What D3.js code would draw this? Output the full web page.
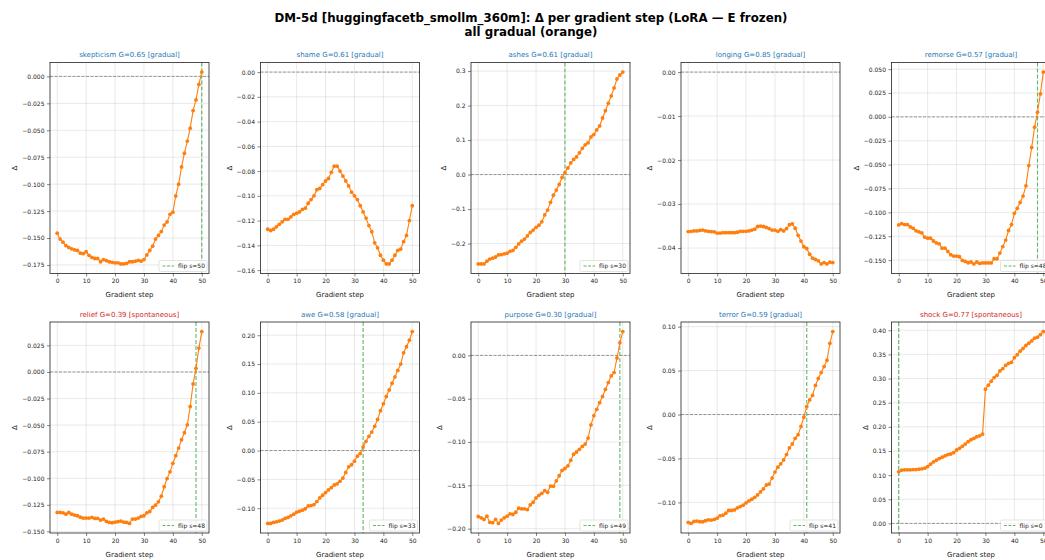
<!DOCTYPE html>
<html>
<head>
<meta charset="utf-8">
<script src="https://cdn.jsdelivr.net/npm/d3@7"></script>
<style>
  body { margin: 0; background: #fff; }
  text { font-family: "DejaVu Sans", sans-serif; }
</style>
</head>
<body>
<div id="wrapper"></div>
<script>
// panel meta
const panelNames = ["skepticism", "shame", "ashes", "longing", "remorse", "relief", "awe", "purpose", "terror", "shock"];
const panelG = [0.65, 0.61, 0.61, 0.85, 0.57, 0.39, 0.58, 0.30, 0.59, 0.77];
const panelKind = ["gradual", "gradual", "gradual", "gradual", "gradual", "spontaneous", "gradual", "gradual", "gradual", "spontaneous"];
const flipSteps = [50, null, 30, null, 48, 48, 33, 49, 41, 0];

const steps = d3.range(0, 51);
const xTicks = [0, 10, 20, 30, 40, 50];

// Δ per gradient step
const skepticism = [-0.1455, -0.151, -0.1538, -0.157, -0.1587, -0.160, -0.161, -0.1615, -0.164, -0.1645, -0.1627, -0.166, -0.168, -0.169, -0.169, -0.172, -0.170, -0.171, -0.172, -0.1725, -0.173, -0.173, -0.174, -0.174, -0.1735, -0.172, -0.172, -0.1715, -0.1707, -0.1715, -0.170, -0.1657, -0.1615, -0.1575, -0.151, -0.1476, -0.144, -0.138, -0.135, -0.128, -0.126, -0.111, -0.100, -0.084, -0.0713, -0.060, -0.048, -0.0317, -0.0218, -0.0074, 0.004];
const shame = [-0.127, -0.128, -0.127, -0.125, -0.123, -0.121, -0.119, -0.119, -0.117, -0.115, -0.114, -0.113, -0.111, -0.110, -0.106, -0.103, -0.100, -0.095, -0.094, -0.091, -0.088, -0.086, -0.081, -0.076, -0.076, -0.080, -0.084, -0.088, -0.092, -0.097, -0.100, -0.103, -0.108, -0.113, -0.118, -0.124, -0.129, -0.138, -0.142, -0.148, -0.152, -0.155, -0.155, -0.152, -0.148, -0.144, -0.143, -0.137, -0.132, -0.120, -0.108];
const ashes = [-0.259, -0.259, -0.259, -0.251, -0.245, -0.2425, -0.239, -0.233, -0.232, -0.230, -0.228, -0.2225, -0.220, -0.211, -0.201, -0.193, -0.187, -0.178, -0.168, -0.161, -0.153, -0.147, -0.137, -0.117, -0.103, -0.0805, -0.060, -0.045, -0.0288, -0.0086, 0.0058, 0.019, 0.0336, 0.044, 0.051, 0.063, 0.076, 0.0863, 0.092, 0.109, 0.116, 0.1295, 0.141, 0.164, 0.185, 0.207, 0.228, 0.251, 0.277, 0.2885, 0.297];
const longing = [-0.03625, -0.0362, -0.0361, -0.0361, -0.0360, -0.0359, -0.0361, -0.0362, -0.03625, -0.0363, -0.0366, -0.0366, -0.0365, -0.0365, -0.0365, -0.0365, -0.0365, -0.0364, -0.0362, -0.0362, -0.0362, -0.0361, -0.0359, -0.0357, -0.0351, -0.0350, -0.0351, -0.0353, -0.0356, -0.0359, -0.0359, -0.0362, -0.0358, -0.0361, -0.0356, -0.0347, -0.0345, -0.0355, -0.0371, -0.0384, -0.0397, -0.0401, -0.0414, -0.0423, -0.0426, -0.0429, -0.0436, -0.0433, -0.0436, -0.0432, -0.0433];
const remorse = [-0.1132, -0.1118, -0.1128, -0.1128, -0.1153, -0.1167, -0.1194, -0.1205, -0.1215, -0.126, -0.127, -0.127, -0.130, -0.132, -0.133, -0.1375, -0.1375, -0.141, -0.1444, -0.1458, -0.1458, -0.1465, -0.1503, -0.1514, -0.1528, -0.152, -0.154, -0.152, -0.1535, -0.153, -0.153, -0.153, -0.153, -0.1486, -0.1486, -0.1427, -0.1358, -0.129, -0.119, -0.1128, -0.101, -0.0958, -0.0896, -0.083, -0.0722, -0.051, -0.032, -0.0108, 0.0049, 0.024, 0.0469];
const relief = [-0.1322, -0.1322, -0.1325, -0.1338, -0.1322, -0.1338, -0.1347, -0.1353, -0.1366, -0.1375, -0.1375, -0.1375, -0.1369, -0.1378, -0.1378, -0.1394, -0.1384, -0.1406, -0.1416, -0.1419, -0.1413, -0.1409, -0.1403, -0.1413, -0.1416, -0.1425, -0.1384, -0.1384, -0.1375, -0.1359, -0.1353, -0.1325, -0.1313, -0.1275, -0.1253, -0.1222, -0.1169, -0.108, -0.1003, -0.094, -0.086, -0.0788, -0.0716, -0.0638, -0.0572, -0.0497, -0.0325, -0.0113, 0.0034, 0.0225, 0.038];
const awe = [-0.1264, -0.1264, -0.1247, -0.1236, -0.1224, -0.1207, -0.1178, -0.116, -0.1132, -0.1103, -0.1069, -0.1052, -0.1034, -0.101, -0.096, -0.0954, -0.0937, -0.0885, -0.0822, -0.0776, -0.073, -0.0684, -0.0644, -0.0598, -0.058, -0.0534, -0.0477, -0.038, -0.0282, -0.0247, -0.0184, -0.0098, -0.0052, 0.0063, 0.016, 0.0247, 0.032, 0.042, 0.054, 0.069, 0.081, 0.0937, 0.105, 0.1167, 0.1276, 0.139, 0.150, 0.1695, 0.180, 0.1914, 0.2063];
const purpose = [-0.1859, -0.1874, -0.1893, -0.1855, -0.1927, -0.1931, -0.1893, -0.1939, -0.190, -0.1874, -0.1855, -0.1828, -0.1836, -0.181, -0.1763, -0.1771, -0.1771, -0.1779, -0.1725, -0.1695, -0.1645, -0.1615, -0.1592, -0.1561, -0.158, -0.1508, -0.1511, -0.1447, -0.1389, -0.1328, -0.1305, -0.1275, -0.121, -0.1141, -0.1115, -0.1084, -0.105, -0.1023, -0.0954, -0.0802, -0.0695, -0.0622, -0.0546, -0.0473, -0.0393, -0.0313, -0.0237, -0.0198, -0.003, 0.0145, 0.0275];
const terror = [-0.1228, -0.1239, -0.1217, -0.1213, -0.122, -0.122, -0.1209, -0.1198, -0.1201, -0.1194, -0.1179, -0.1153, -0.1145, -0.1122, -0.1092, -0.1092, -0.1085, -0.1062, -0.1047, -0.1032, -0.1006, -0.0983, -0.0964, -0.0942, -0.0915, -0.0881, -0.0847, -0.0802, -0.0791, -0.0723, -0.0655, -0.0599, -0.0561, -0.0516, -0.0456, -0.038, -0.0335, -0.0271, -0.023, -0.0136, -0.003, 0.009, 0.0166, 0.0218, 0.0331, 0.041, 0.0478, 0.0546, 0.0618, 0.081, 0.0944];
const shock = [0.1068, 0.1103, 0.111, 0.111, 0.111, 0.1116, 0.1116, 0.1123, 0.113, 0.1144, 0.1178, 0.1226, 0.1274, 0.1308, 0.1342, 0.137, 0.1397, 0.1425, 0.1438, 0.1466, 0.152, 0.1555, 0.1596, 0.1644, 0.1692, 0.1733, 0.176, 0.1795, 0.1815, 0.185, 0.278, 0.2863, 0.2945, 0.302, 0.3068, 0.3158, 0.3205, 0.3274, 0.3315, 0.3336, 0.3432, 0.3493, 0.3568, 0.3623, 0.3685, 0.3733, 0.378, 0.3836, 0.3856, 0.391, 0.3973];
const seriesList = [skepticism, shame, ashes, longing, remorse, relief, awe, purpose, terror, shock];

// y tick labels per panel
const yTickValues = [
  [0, -0.025, -0.05, -0.075, -0.1, -0.125, -0.15, -0.175],
  [0, -0.02, -0.04, -0.06, -0.08, -0.1, -0.12, -0.14, -0.16],
  [0.3, 0.2, 0.1, 0, -0.1, -0.2],
  [0, -0.01, -0.02, -0.03, -0.04],
  [0.05, 0.025, 0, -0.025, -0.05, -0.075, -0.1, -0.125, -0.15],
  [0.025, 0, -0.025, -0.05, -0.075, -0.1, -0.125, -0.15],
  [0.2, 0.15, 0.1, 0.05, 0, -0.05, -0.1],
  [0, -0.05, -0.1, -0.15, -0.2],
  [0.1, 0.05, 0, -0.05, -0.1],
  [0.4, 0.35, 0.3, 0.25, 0.2, 0.15, 0.1, 0.05, 0]
];
const yTickDigits = [3, 2, 1, 2, 3, 3, 2, 2, 2, 2];

const width = 1045, height = 560;
const colLeft = [50, 260.5, 471, 681, 891.5];
const rowTop = [62.5, 322];
const axW = 159, axH = 211;

const orange = "#ff7f0e", green = "#2ca02c";
const kindColor = { gradual: "#1f77b4", spontaneous: "#d62728" };

const svg = d3.select("#wrapper").append("svg")
  .attr("width", width)
  .attr("height", height);

// figure title
svg.append("text")
  .attr("x", 531).attr("y", 22)
  .attr("text-anchor", "middle")
  .attr("font-size", 11.8).attr("font-weight", "bold")
  .text("DM-5d [huggingfacetb_smollm_360m]: Δ per gradient step (LoRA — E frozen)");
svg.append("text")
  .attr("x", 531).attr("y", 35.5)
  .attr("text-anchor", "middle")
  .attr("font-size", 11.8).attr("font-weight", "bold")
  .text("all gradual (orange)");

const fmtMinus = (s) => s.replace("-", "\u2212");

panelNames.forEach((name, i) => {
  const data = seriesList[i];
  const left = colLeft[i % 5];
  const top = rowTop[Math.floor(i / 5)];
  const g = svg.append("g").attr("transform", `translate(${left},${top})`);

  const xScale = d3.scaleLinear().domain([-2.5, 52.5]).range([0, axW]);
  // matplotlib-like autoscale: data plus the zero line, 5% margin
  const ext = d3.extent(data.concat([0]));
  const pad = (ext[1] - ext[0]) * 0.05;
  const yScale = d3.scaleLinear().domain([ext[0] - pad, ext[1] + pad]).range([axH, 0]);

  // grid
  g.append("g").selectAll("line").data(xTicks).join("line")
    .attr("x1", (d) => xScale(d)).attr("x2", (d) => xScale(d))
    .attr("y1", 0).attr("y2", axH)
    .attr("stroke", "#b0b0b0").attr("stroke-opacity", 0.35).attr("stroke-width", 0.8);
  g.append("g").selectAll("line").data(yTickValues[i]).join("line")
    .attr("x1", 0).attr("x2", axW)
    .attr("y1", (d) => yScale(d)).attr("y2", (d) => yScale(d))
    .attr("stroke", "#b0b0b0").attr("stroke-opacity", 0.35).attr("stroke-width", 0.8);

  // zero line
  g.append("line")
    .attr("x1", 0).attr("x2", axW)
    .attr("y1", yScale(0)).attr("y2", yScale(0))
    .attr("stroke", "#808080").attr("stroke-width", 0.8)
    .attr("stroke-dasharray", "3,1.5");

  // flip line
  const flip = flipSteps[i];
  if (flip !== null) {
    g.append("line")
      .attr("x1", xScale(flip)).attr("x2", xScale(flip))
      .attr("y1", 0).attr("y2", axH)
      .attr("stroke", green).attr("stroke-opacity", 0.75).attr("stroke-width", 1.1)
      .attr("stroke-dasharray", "4,2");
  }

  // series
  const line = d3.line()
    .x((d, j) => xScale(steps[j]))
    .y((d) => yScale(d));
  g.append("path")
    .attr("d", line(data))
    .attr("fill", "none")
    .attr("stroke", orange)
    .attr("stroke-width", 1.1);
  g.append("g").selectAll("circle").data(data).join("circle")
    .attr("cx", (d, j) => xScale(steps[j]))
    .attr("cy", (d) => yScale(d))
    .attr("r", 1.9)
    .attr("fill", orange);

  // axes
  const xAxis = g.append("g")
    .attr("transform", `translate(0,${axH})`)
    .call(d3.axisBottom(xScale).tickValues(xTicks).tickSize(3).tickPadding(2.5));
  const yAxis = g.append("g")
    .call(d3.axisLeft(yScale).tickValues(yTickValues[i]).tickSize(3).tickPadding(2.5)
      .tickFormat((d) => fmtMinus(d3.format(`.${yTickDigits[i]}f`)(d))));
  [xAxis, yAxis].forEach((ax) => {
    ax.select(".domain").remove();
    ax.selectAll("text").attr("font-size", 6).attr("fill", "#222")
      .attr("font-family", "DejaVu Sans, sans-serif");
    ax.selectAll("line").attr("stroke", "#333").attr("stroke-width", 0.6);
  });

  // spines
  g.append("rect")
    .attr("width", axW).attr("height", axH)
    .attr("fill", "none").attr("stroke", "#222").attr("stroke-width", 0.8);

  // legend
  if (flip !== null) {
    const lg = g.append("g").attr("transform", `translate(${axW - 50},${axH - 13})`);
    lg.append("rect")
      .attr("width", 48).attr("height", 11).attr("rx", 1.5)
      .attr("fill", "#fff").attr("fill-opacity", 0.85)
      .attr("stroke", "#d0d0d0").attr("stroke-width", 0.6);
    lg.append("line")
      .attr("x1", 3.5).attr("x2", 15).attr("y1", 5.5).attr("y2", 5.5)
      .attr("stroke", green).attr("stroke-opacity", 0.75).attr("stroke-width", 1.1)
      .attr("stroke-dasharray", "3,1.5");
    lg.append("text")
      .attr("x", 19).attr("y", 7.6)
      .attr("font-size", 6).attr("fill", "#222")
      .text(`flip s=${flip}`);
  }

  // titles and labels
  g.append("text")
    .attr("x", axW / 2).attr("y", -5.5)
    .attr("text-anchor", "middle")
    .attr("font-size", 7).attr("fill", kindColor[panelKind[i]])
    .text(`${name} G=${panelG[i].toFixed(2)} [${panelKind[i]}]`);
  g.append("text")
    .attr("x", axW / 2).attr("y", axH + 23.5)
    .attr("text-anchor", "middle")
    .attr("font-size", 7).attr("fill", "#222")
    .text("Gradient step");
  const bb = yAxis.node().getBBox();
  g.append("text")
    .attr("transform", `translate(${bb.x - 5},${axH / 2}) rotate(-90)`)
    .attr("text-anchor", "middle")
    .attr("font-size", 7).attr("fill", "#222")
    .text("Δ");
});
</script>
</body>
</html>
